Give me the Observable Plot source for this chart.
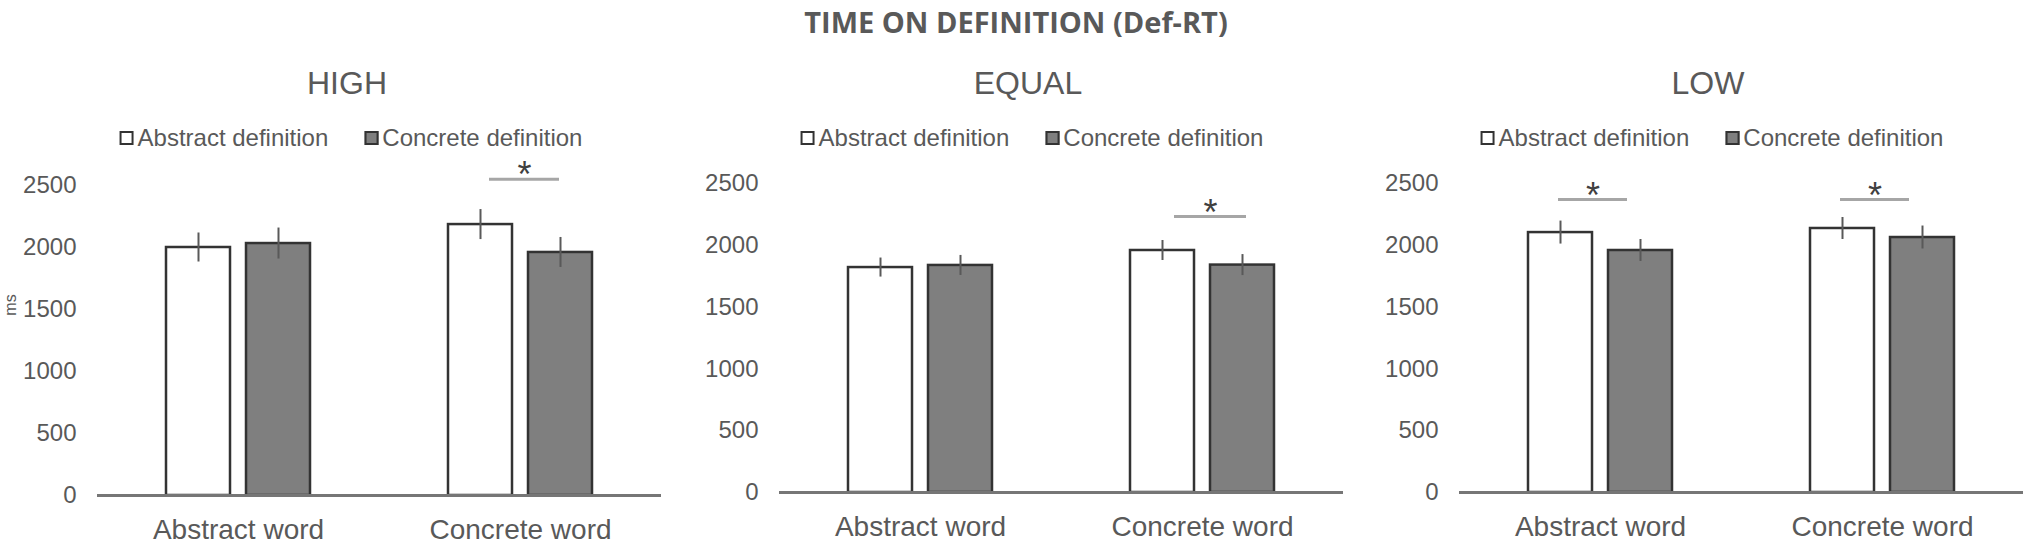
<!DOCTYPE html>
<html>
<head>
<meta charset="utf-8">
<script src="https://cdn.jsdelivr.net/npm/d3@7"></script>
<script src="https://cdn.jsdelivr.net/npm/@observablehq/plot@0.6"></script>
<style>
  html, body { margin: 0; padding: 0; background: #ffffff; }
  #root { position: relative; width: 2028px; height: 548px; overflow: hidden; background: #ffffff; font-family: "Liberation Sans", Arial, sans-serif; }
  .lbl { position: absolute; white-space: nowrap; line-height: 1; color: #595959; }
  .legend { display: flex; align-items: center; font-size: 24px; color: #595959; }
  .legend .sw { width: 10px; height: 10px; border: 2px solid #333; margin-right: 4px; }
  .legend .item { display: flex; align-items: center; }
  .legend .item + .item { margin-left: 36px; }
  svg text { font-family: "Liberation Sans", Arial, sans-serif; }
</style>
</head>
<body>
<div id="root"></div>
<script>
// ---- data ----
const mainTitle = "TIME ON DEFINITION (Def-RT)";
const panelNames = ["HIGH", "EQUAL", "LOW"];
const words = ["Abstract word", "Concrete word"];
const definitions = ["Abstract definition", "Concrete definition"];
const yTicks = [0, 500, 1000, 1500, 2000, 2500];
const yLabel = "ms";
// order: [Abstract word/Abstract def, Abstract word/Concrete def, Concrete word/Abstract def, Concrete word/Concrete def]
const highMeans = [2000, 2032, 2185, 1960];
const highErrors = [117, 125, 121, 121];
const equalMeans = [1820, 1837, 1958, 1840];
const equalErrors = [77, 81, 81, 85];
const lowMeans = [2103, 1958, 2136, 2063];
const lowErrors = [93, 89, 89, 93];
const highSigWords = ["Concrete word"];
const highSigLevels = [2550];
const equalSigWords = ["Concrete word"];
const equalSigLevels = [2233];
const lowSigWords = ["Abstract word", "Concrete word"];
const lowSigLevels = [2370, 2370];

const root = document.getElementById("root");

function addLabel(text, cx, cy, css, transform) {
  const el = document.createElement("div");
  el.className = "lbl";
  el.textContent = text;
  Object.assign(el.style, css);
  el.style.left = cx + "px";
  el.style.top = cy + "px";
  el.style.transform = transform || "translate(-50%,-50%)";
  root.appendChild(el);
  return el;
}

function addLegend(cx, cy) {
  const lg = document.createElement("div");
  lg.className = "legend lbl";
  const fills = ["#ffffff", "#7f7f7f"];
  definitions.forEach((d, i) => {
    const it = document.createElement("div");
    it.className = "item";
    const sw = document.createElement("span");
    sw.className = "sw";
    sw.style.background = fills[i];
    const tx = document.createElement("span");
    tx.textContent = d;
    it.appendChild(sw); it.appendChild(tx);
    lg.appendChild(it);
  });
  lg.style.left = cx + "px";
  lg.style.top = cy + "px";
  lg.style.transform = "translate(-50%,-50%)";
  root.appendChild(lg);
}

addLabel(mainTitle, 1016, 21, {fontFamily: "'Open Sans', sans-serif", fontWeight: "700", fontSize: "29px"});
addLabel(yLabel, 11, 305, {fontSize: "16px"}, "translate(-50%,-50%) rotate(-90deg)");

const BW = 64, GAP = 16, STEP = BW + GAP;
const panels = [
  {name: panelNames[0], means: highMeans, errors: highErrors, sigWords: highSigWords, sigLevels: highSigLevels,
   left: 0, width: 680, ml: 97, mt: 35, mb: 53, inL: 41, inR: 33},
  {name: panelNames[1], means: equalMeans, errors: equalErrors, sigWords: equalSigWords, sigLevels: equalSigLevels,
   left: 681, width: 680, ml: 98, mt: 33, mb: 56, inL: 44, inR: 28},
  {name: panelNames[2], means: lowMeans, errors: lowErrors, sigWords: lowSigWords, sigLevels: lowSigLevels,
   left: 1361, width: 667, ml: 98, mt: 33, mb: 56, inL: 30, inR: 45}
];
const PLOTW = 564;
const TOP = 150, H = 398;

for (const p of panels) {
  addLabel(p.name, p.left + 347, 83, {fontSize: "32px"});
  addLegend(p.left + 351, 138);

  const rows = words.flatMap((w, wi) => definitions.map((d, di) => ({
    word: w, def: d, mean: p.means[wi * 2 + di], err: p.errors[wi * 2 + di]
  })));
  const sig = p.sigWords.map((w, i) => ({word: w, level: p.sigLevels[i]}));

  const facetW = PLOTW / 2;
  const po = (facetW / STEP - (2 - GAP / STEP)) / 2;
  const starDx = (-STEP + p.inL - p.inR) / 2;

  const svg = Plot.plot({
    width: p.width,
    height: H,
    marginLeft: p.ml, marginRight: p.width - p.ml - PLOTW, marginTop: p.mt, marginBottom: p.mb,
    style: {background: "transparent", overflow: "visible", color: "#595959", fontFamily: "'Liberation Sans', Arial, sans-serif"},
    fx: {domain: words, padding: 0},
    x: {domain: definitions, paddingInner: GAP / STEP, paddingOuter: po, axis: null},
    y: {domain: [0, 2500]},
    color: {domain: definitions, range: ["#ffffff", "#7f7f7f"]},
    marks: [
      Plot.axisY({ticks: yTicks, tickFormat: "d", tickSize: 0, tickPadding: 21, fontSize: 24, fill: "#595959", label: null}),
      Plot.axisFx({anchor: "bottom", tickSize: 0, tickPadding: 24, fontSize: 28, fill: "#595959", label: null}),
      Plot.barY(rows, {fx: "word", x: "def", y: "mean", fill: "def", stroke: "#333333", strokeWidth: 2.5}),
      Plot.ruleX(rows, {fx: "word", x: "def", y1: d => d.mean - d.err, y2: d => d.mean + d.err, stroke: "#595959", strokeWidth: 2}),
      Plot.ruleY([0], {stroke: "#767676", strokeWidth: 3}),
      Plot.ruleY(sig, {fx: "word", y: "level", x1: () => definitions[0], x2: () => definitions[1],
        insetLeft: p.inL, insetRight: p.inR, stroke: "#a6a6a6", strokeWidth: 3}),
      Plot.text(sig, {fx: "word", x: () => definitions[1], y: "level", text: () => "*", dx: starDx, dy: 8,
        lineAnchor: "bottom", fontSize: 36, fill: "#404040"})
    ]
  });

  svg.style.position = "absolute";
  svg.style.left = p.left + "px";
  svg.style.top = TOP + "px";
  root.appendChild(svg);
}
</script>
</body>
</html>
